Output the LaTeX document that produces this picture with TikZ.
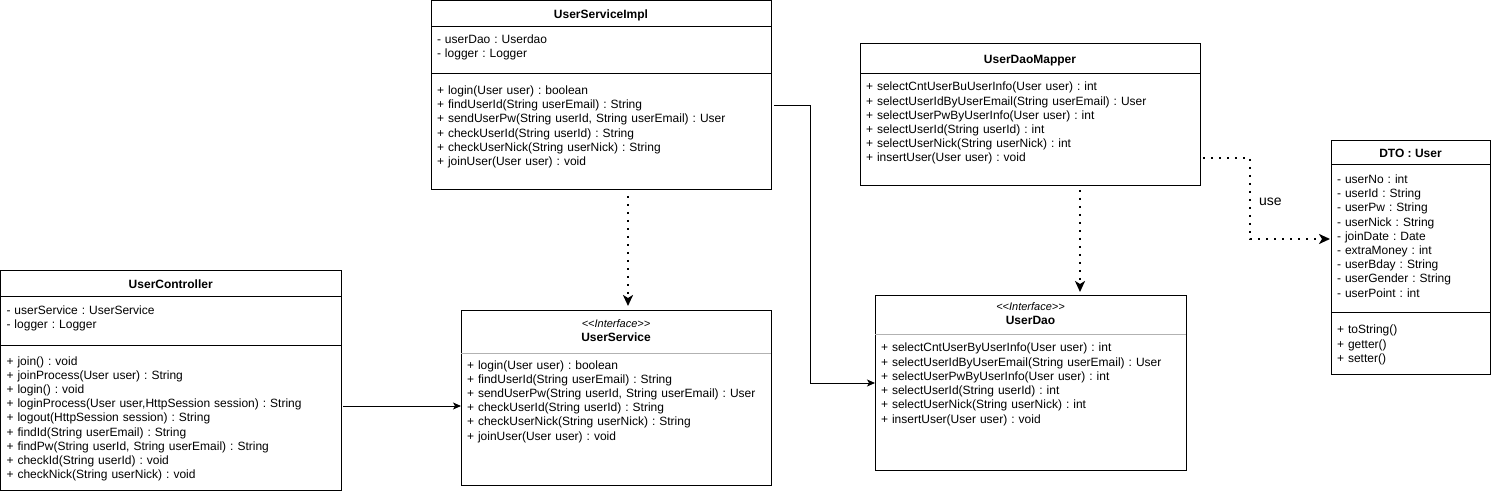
\documentclass[tikz,border=0pt]{standalone}
\usepackage{fontspec}
\setmainfont{Liberation Sans}
\usetikzlibrary{positioning,arrows.meta}
\frenchspacing
\newcommand{\ifacelabel}[1]{{\fontsize{11}{14.2}\selectfont\itshape <\kern0pt<#1>\kern0pt>}}

\begin{document}
\begin{tikzpicture}[x=1pt,y=-1pt,node distance=0pt,line width=1pt,
		every node/.style={font=\fontsize{12}{14.2}\selectfont},
		head/.style={draw,anchor=north west,outer sep=0pt,inner sep=0pt,text height=9pt,text depth=0pt,font=\fontsize{12}{14.2}\selectfont\bfseries},
		part/.style n args={3}{draw,outer sep=0pt,inner xsep=6pt,inner ysep=0pt,align=left,text width=#1,text height=#2,text depth=#3},
		ihead/.style n args={3}{anchor=north west,outer sep=0pt,inner xsep=6pt,inner ysep=0pt,align=center,text width=#1,text height=#2,text depth=#3},
		ipart/.style n args={3}{outer sep=0pt,inner xsep=6pt,inner ysep=0pt,align=left,text width=#1,text height=#2,text depth=#3},
		divider/.style={draw=gray!60},
		assoc/.style={draw,-{Stealth[length=8pt,width=7pt,inset=2pt]}},
		dep/.style={draw,line width=2pt,dash pattern=on 2pt off 6pt,-{Stealth[length=11pt,width=10pt,inset=3pt]}}]
	\useasboundingbox (0,0) rectangle (1491,494);

	\node[head,minimum width=340pt,minimum height=26pt] (usiTitle) at (431,1) {UserServiceImpl};
	\node[part={328pt}{16.5pt}{30.5pt}] (usiAttrs) [below=of usiTitle] {- userDao : Userdao\\- logger : Logger};
	\node[part={328pt}{20.5pt}{95.5pt}] (usiMethods) [below=of usiAttrs] {+ login(User user) : boolean\\+ findUserId(String userEmail) : String\\+ sendUserPw(String userId, String userEmail) : User\\+ checkUserId(String userId) : String\\+ checkUserNick(String userNick) : String\\+ joinUser(User user) : void};

	\node[head,minimum width=340.5pt,minimum height=26pt] (ucTitle) at (0.5,271) {UserController};
	\node[part={328.5pt}{17pt}{31pt}] (ucAttrs) [below=of ucTitle] {- userService : UserService\\- logger : Logger};
	\node[part={328.5pt}{20pt}{125pt}] (ucMethods) [below=of ucAttrs] {+ join() : void\\+ joinProcess(User user) : String\\+ login() : void\\+ loginProcess(User user,HttpSession session) : String\\+ logout(HttpSession session) : String\\+ findId(String userEmail) : String\\+ findPw(String userId, String userEmail) : String\\+ checkId(String userId) : void\\+ checkNick(String userNick) : void};

	\node[ihead={298pt}{16.5pt}{25.5pt}] (usTitle) at (461,311) {\ifacelabel{Interface}\\\textbf{UserService}};
	\node[ipart={298pt}{16pt}{116pt}] (usMethods) [below=of usTitle] {+ login(User user) : boolean\\+ findUserId(String userEmail) : String\\+ sendUserPw(String userId, String userEmail) : User\\+ checkUserId(String userId) : String\\+ checkUserNick(String userNick) : String\\+ joinUser(User user) : void};
	\draw (usTitle.north west) rectangle (usMethods.south east);
	\draw[divider] (usMethods.north west) -- (usMethods.north east);

	\node[head,minimum width=340pt,minimum height=30pt] (udmTitle) at (860,44) {UserDaoMapper};
	\node[part={328pt}{17pt}{95pt}] (udmMethods) [below=of udmTitle] {+ selectCntUserBuUserInfo(User user) : int\\+ selectUserIdByUserEmail(String userEmail) : User\\+ selectUserPwByUserInfo(User user) : int\\+ selectUserId(String userId) : int\\+ selectUserNick(String userNick) : int\\+ insertUser(User user) : void};

	\node[ihead={299pt}{14.5pt}{23.5pt}] (udTitle) at (875,296) {\ifacelabel{Interface}\\\textbf{UserDao}};
	\node[ipart={299pt}{18pt}{118pt}] (udMethods) [below=of udTitle] {+ selectCntUserByUserInfo(User user) : int\\+ selectUserIdByUserEmail(String userEmail) : User\\+ selectUserPwByUserInfo(User user) : int\\+ selectUserId(String userId) : int\\+ selectUserNick(String userNick) : int\\+ insertUser(User user) : void};
	\draw (udTitle.north west) rectangle (udMethods.south east);
	\draw[divider] (udMethods.north west) -- (udMethods.north east);

	\node[head,minimum width=159pt,minimum height=24pt] (dtoTitle) at (1331,141) {DTO : User};
	\node[part={147pt}{18.5pt}{129.5pt}] (dtoAttrs) [below=of dtoTitle] {- userNo : int\\- userId : String\\- userPw : String\\- userNick : String\\- joinDate : Date\\- extraMoney : int\\- userBday : String\\- userGender : String\\- userPoint : int};
	\node[part={147pt}{21pt}{40pt}] (dtoMethods) [below=of dtoAttrs] {+ toString()\\+ getter()\\+ setter()};

	\coordinate (ucOut) at ([xshift=2pt,yshift=11.5pt]ucMethods.east);
	\coordinate (usiOut) at ([xshift=3pt,yshift=26pt]usiMethods.east);
	\coordinate (udIn) at ([yshift=19pt]udMethods.west);
	\draw[assoc] (ucOut) -- (ucOut -| usMethods.west);
	\draw[assoc] (usiOut) -- ++(36,0) |- (udIn);
	\draw[dep] ([xshift=27pt,yshift=-6pt]usiMethods.south) -- ([xshift=12pt,yshift=5pt]usTitle.north);
	\draw[dep] ([xshift=50pt,yshift=-4pt]udmMethods.south) -- ([xshift=49.5pt,yshift=4pt]udTitle.north);
	\draw[dep] ([xshift=3pt,yshift=-28pt]udmMethods.east) -- ++(47,0) |- node[pos=0.25,right=8pt,inner sep=0pt,yshift=-3pt,font=\fontsize{14}{16}\selectfont] {use} ([xshift=-1pt]dtoAttrs.west);
\end{tikzpicture}
\end{document}
